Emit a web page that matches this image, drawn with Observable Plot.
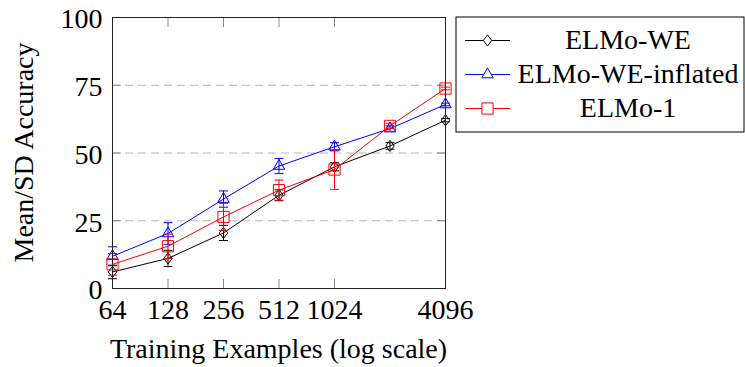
<!DOCTYPE html>
<html>
<head>
<meta charset="utf-8">
<script src="https://cdn.jsdelivr.net/npm/d3@7"></script>
<script src="https://cdn.jsdelivr.net/npm/@observablehq/plot@0.6"></script>
<style>
  html, body { margin: 0; padding: 0; background: white; overflow: hidden; }
</style>
</head>
<body>
<div id="chart"></div>
<script>
// ---- data ----
const sizes = [64, 128, 256, 512, 1024, 2048, 4096];
const xTickLabels = [64, 128, 256, 512, 1024, 4096];
const xTickMarks = [64, 128, 256, 512, 1024, 4096];
const yTicks = [0, 25, 50, 75, 100];
const gridLines = [25, 50, 75];
const seriesNames = ["ELMo-WE", "ELMo-WE-inflated", "ELMo-1"];
const seriesColors = ["#000000", "#0000ff", "#ff0000"];

const weMean = [6.1, 11.1, 20.5, 34.4, 44.9, 52.6, 62.1];
const weErr = [2.5, 3.0, 2.8, 2.0, 1.5, 1.2, 0.6];
const inflMean = [11.9, 20.3, 33.0, 45.2, 52.3, 59.0, 67.9];
const inflErr = [3.5, 4.0, 3.0, 2.8, 1.5, 1.0, 0.5];
const elmo1Mean = [8.9, 15.6, 26.4, 36.3, 43.9, 60.0, 73.8];
const elmo1Err = [4.0, 4.5, 5.0, 3.7, 7.3, 1.0, 0.5];

// ---- marker symbols (pgfplots style) ----
const diamondSym = {draw(ctx) { const h = 5.6, w = 4.2; ctx.moveTo(0, -h); ctx.lineTo(w, 0); ctx.lineTo(0, h); ctx.lineTo(-w, 0); ctx.closePath(); }};
const triangleSym = {draw(ctx) { const r = 6.6; ctx.moveTo(0, -r); ctx.lineTo(0.866 * r, 0.5 * r); ctx.lineTo(-0.866 * r, 0.5 * r); ctx.closePath(); }};
const squareSym = {draw(ctx) { const s = 5.6; ctx.moveTo(-s, -s); ctx.lineTo(s, -s); ctx.lineTo(s, s); ctx.lineTo(-s, s); ctx.closePath(); }};
const capSym = {draw(ctx) { const w = 4.5; ctx.moveTo(-w, 0); ctx.lineTo(w, 0); }};
const symbols = [diamondSym, triangleSym, squareSym];

const means = [weMean, inflMean, elmo1Mean];
const errs = [weErr, inflErr, elmo1Err];

const seriesData = seriesNames.map((name, s) => sizes.map((n, i) => ({
  series: name, n, mean: means[s][i], lo: means[s][i] - errs[s][i], hi: means[s][i] + errs[s][i]
})));

const font = "'Liberation Serif', 'Times New Roman', serif";

const seriesMarks = seriesData.flatMap((rows, s) => [
  Plot.ruleX(rows, {x: "n", y1: "lo", y2: "hi", stroke: seriesColors[s], strokeWidth: 1}),
  Plot.dot(rows, {x: "n", y: "lo", symbol: capSym, stroke: seriesColors[s], fill: "none", strokeWidth: 1}),
  Plot.dot(rows, {x: "n", y: "hi", symbol: capSym, stroke: seriesColors[s], fill: "none", strokeWidth: 1}),
  Plot.line(rows, {x: "n", y: "mean", stroke: seriesColors[s], strokeWidth: 1}),
  Plot.dot(rows, {x: "n", y: "mean", symbol: symbols[s], stroke: seriesColors[s], fill: "none", strokeWidth: 1})
]);

const chart = Plot.plot({
  width: 745,
  height: 367,
  marginLeft: 112,
  marginRight: 300,
  marginTop: 17,
  marginBottom: 79,
  style: {fontFamily: font, fontSize: "28px", background: "white", color: "black", overflow: "visible"},
  x: {type: "log", base: 2, domain: [64, 4096]},
  y: {domain: [0, 100]},
  marks: [
    Plot.ruleY(gridLines, {stroke: "#b4b4b4", strokeDasharray: "8,5", strokeWidth: 1}),
    Plot.axisX(xTickMarks, {anchor: "bottom", tickSize: -9, stroke: "#8a8a8a", tickFormat: () => "", label: null}),
    Plot.axisX(xTickMarks, {anchor: "top", tickSize: -9, stroke: "#8a8a8a", tickFormat: () => "", label: null}),
    Plot.axisY(yTicks, {anchor: "left", tickSize: -9, stroke: "#8a8a8a", tickFormat: () => "", label: null}),
    Plot.axisY(yTicks, {anchor: "right", tickSize: -9, stroke: "#8a8a8a", tickFormat: () => "", label: null}),
    Plot.axisX(xTickLabels, {anchor: "bottom", tickSize: 0, tickPadding: 11, tickFormat: d => String(d), label: null, fontSize: 28}),
    Plot.axisY(yTicks, {anchor: "left", tickSize: 0, tickPadding: 10, tickFormat: d => String(d), label: null, fontSize: 28, dy: 2}),
    ...seriesMarks,
    Plot.frame({stroke: "#222", strokeWidth: 1})
  ]
});

document.getElementById("chart").appendChild(chart);

// ---- axis titles and legend ----
const svg = d3.select(chart);
const xr = chart.scale("x").range;
const yr = chart.scale("y").range;
const xMid = (xr[0] + xr[1]) / 2;
const yMid = (yr[0] + yr[1]) / 2;

svg.append("text")
  .attr("x", xMid).attr("y", yr[0] + 70)
  .attr("text-anchor", "middle")
  .attr("font-family", font).attr("font-size", 28)
  .attr("fill", "black")
  .text("Training Examples (log scale)");

svg.append("text")
  .attr("transform", `translate(33,${yMid}) rotate(-90)`)
  .attr("text-anchor", "middle")
  .attr("font-family", font).attr("font-size", 28)
  .attr("fill", "black")
  .text("Mean/SD Accuracy");

const lg = svg.append("g");
const boxX = xr[1] + 11, boxY = yr[1], boxW = 288, boxH = 115;
lg.append("rect").attr("x", boxX).attr("y", boxY).attr("width", boxW).attr("height", boxH)
  .attr("fill", "white").attr("stroke", "black").attr("stroke-width", 1);
seriesNames.forEach((name, s) => {
  const cy = boxY + 23.5 + s * 34;
  const x0 = boxX + 9, x1 = boxX + 54;
  lg.append("line").attr("x1", x0).attr("x2", x1).attr("y1", cy).attr("y2", cy)
    .attr("stroke", seriesColors[s]).attr("stroke-width", 1);
  const p = d3.path();
  symbols[s].draw(p, 0);
  lg.append("path").attr("d", p.toString())
    .attr("transform", `translate(${(x0 + x1) / 2},${cy})`)
    .attr("fill", "white").attr("stroke", seriesColors[s]).attr("stroke-width", 1);
  lg.append("text").attr("x", boxX + 172).attr("y", cy + 8.5)
    .attr("text-anchor", "middle")
    .attr("font-family", font).attr("font-size", 28).attr("fill", "black")
    .text(name);
});
</script>
</body>
</html>
